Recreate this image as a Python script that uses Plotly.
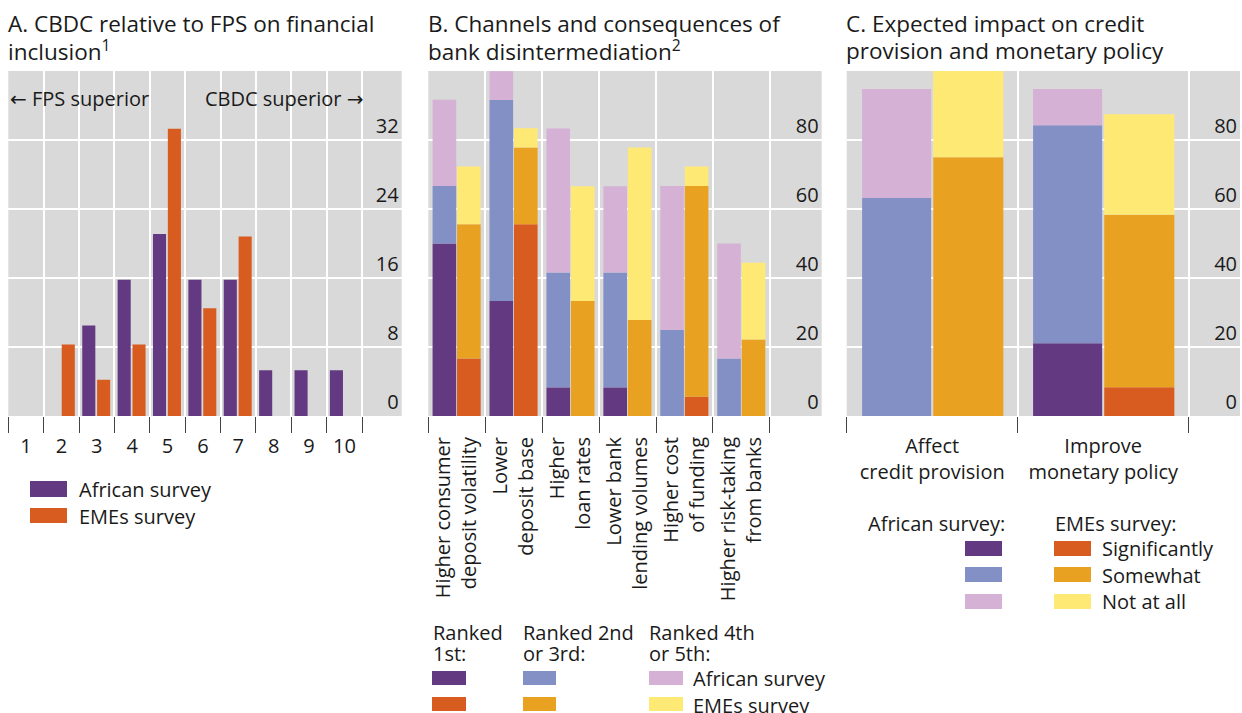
import plotly.graph_objects as go

W, H = 1242, 713
FONT = "Open Sans"
TXT = "#1a1a1a"

# ---------------- Data ----------------
# Panel A: distribution of scores (per cent of respondents)
scores = ["1", "2", "3", "4", "5", "6", "7", "8", "9", "10"]
a_african = [0, 0, 10.5, 15.8, 21.1, 15.8, 15.8, 5.3, 5.3, 5.3]
a_emes = [0, 8.3, 4.2, 8.3, 33.3, 12.5, 20.8, 0, 0, 0]
a_yticks = [0, 8, 16, 24, 32]

# Panel B: channels of bank disintermediation (per cent)
channels = ["Higher consumer deposit volatility", "Lower deposit base", "Higher loan rates",
            "Lower bank lending volumes", "Higher cost of funding", "Higher risk-taking from banks"]
channel_labels = ["Higher consumer<br>deposit volatility", "Lower<br>deposit base", "Higher<br>loan rates",
                  "Lower bank<br>lending volumes", "Higher cost<br>of funding", "Higher risk-taking<br>from banks"]
b_afr_1st = [50.0, 33.3, 8.3, 8.3, 0, 0]
b_afr_2nd3rd = [16.7, 58.3, 33.3, 33.3, 25.0, 16.7]
b_afr_4th5th = [25.0, 8.3, 41.7, 25.0, 41.7, 33.3]
b_eme_1st = [16.7, 55.6, 0, 0, 5.6, 0]
b_eme_2nd3rd = [38.9, 22.2, 33.3, 27.8, 61.1, 22.2]
b_eme_4th5th = [16.7, 5.6, 33.3, 50.0, 5.6, 22.2]

# Panel C: expected impact (per cent)
impacts = ["Affect credit provision", "Improve monetary policy"]
impact_labels = ["Affect<br>credit provision", "Improve<br>monetary policy"]
c_afr_sig = [0, 21.1]
c_afr_some = [63.2, 63.2]
c_afr_not = [31.6, 10.5]
c_eme_sig = [0, 8.3]
c_eme_some = [75.0, 50.0]
c_eme_not = [25.0, 29.2]
bc_yticks = [0, 20, 40, 60, 80]

# ---------------- Style ----------------
PURPLE = "#633a82"
RED = "#d85b20"
BLUE = "#8290c6"
ORANGE = "#e9a122"
PINK = "#d5b1d5"
YELLOW = "#ffe975"
BG = "#d9d9d9"
FS = 20


def px(x):
    return x / W


def py(y):
    return 1 - y / H


fig = go.Figure()

# Panel A bars
fig.add_bar(x=scores, y=a_african, offset=-0.41, width=0.37, marker_color=PURPLE,
            marker_line_width=0, xaxis="x", yaxis="y", showlegend=False)
fig.add_bar(x=scores, y=a_emes, offset=0.01, width=0.37, marker_color=RED,
            marker_line_width=0, xaxis="x", yaxis="y", showlegend=False)


def add_stack(x, layers, colors, offset, width, xa, ya):
    base = [0.0] * len(x)
    for vals, col in zip(layers, colors):
        fig.add_bar(x=x, y=vals, base=list(base), offset=offset, width=width,
                    marker_color=col, marker_line_width=0, xaxis=xa, yaxis=ya,
                    showlegend=False)
        base = [b + v for b, v in zip(base, vals)]


add_stack(channels, [b_afr_1st, b_afr_2nd3rd, b_afr_4th5th], [PURPLE, BLUE, PINK],
          -0.425, 0.415, "x2", "y2")
add_stack(channels, [b_eme_1st, b_eme_2nd3rd, b_eme_4th5th], [RED, ORANGE, YELLOW],
          0.005, 0.415, "x2", "y2")
add_stack(impacts, [c_afr_sig, c_afr_some, c_afr_not], [PURPLE, BLUE, PINK],
          -0.41, 0.404, "x3", "y3")
add_stack(impacts, [c_eme_sig, c_eme_some, c_eme_not], [RED, ORANGE, YELLOW],
          0.006, 0.41, "x3", "y3")

ydom = [1 - 416 / H, 1 - 71 / H]
doms = [[px(8.3), px(401.7)], [px(428.3), px(821.7)], [px(846.7), px(1240)]]

xcommon = dict(type="category", tickson="boundaries", ticks="outside", ticklen=16,
               tickwidth=1.3, tickcolor="#444444", showgrid=True, gridcolor="white",
               gridwidth=1.5, zeroline=False, showline=False, fixedrange=True,
               tickfont=dict(family=FONT, size=FS, color=TXT))
ycommon = dict(side="right", ticklabelposition="inside top", showgrid=True,
               gridcolor="white", gridwidth=1.5, zeroline=False, showline=False,
               ticks="", fixedrange=True, tickfont=dict(family=FONT, size=FS, color=TXT))

layout = dict(
    width=W, height=H, margin=dict(l=0, r=0, t=0, b=0),
    paper_bgcolor="white", plot_bgcolor=BG, barmode="overlay",
    font=dict(family=FONT, color=TXT),
    xaxis=dict(domain=doms[0], anchor="y", range=[-0.5, 10.62],
               categoryorder="array", categoryarray=scores, ticklabelstandoff=16,
               tickvals=scores, ticktext=scores, tickangle=0, **xcommon),
    yaxis=dict(domain=ydom, anchor="x", range=[0, 40], tickvals=a_yticks, **ycommon),
    xaxis2=dict(domain=doms[1], anchor="y2", range=[-0.5, 6.41],
                categoryorder="array", categoryarray=channels, ticklabelstandoff=16,
                tickvals=channels, ticktext=channel_labels, tickangle=-90, **xcommon),
    yaxis2=dict(domain=ydom, anchor="x2", range=[0, 100], tickvals=bc_yticks, **ycommon),
    xaxis3=dict(domain=doms[2], anchor="y3", range=[-0.5, 1.80],
                categoryorder="array", categoryarray=impacts, ticklabelstandoff=16,
                tickvals=impacts, ticktext=impact_labels, tickangle=0, **xcommon),
    yaxis3=dict(domain=ydom, anchor="x3", range=[0, 100], tickvals=bc_yticks, **ycommon),
)
fig.update_layout(**layout)

annotations = []
shapes = []


def text(x, y, s, size=FS, xanchor="left", yanchor="middle", align="left"):
    annotations.append(dict(x=px(x), y=py(y), xref="paper", yref="paper", text=s,
                            showarrow=False, xanchor=xanchor, yanchor=yanchor, align=align,
                            font=dict(family=FONT, size=size, color=TXT)))


def swatch(x0, y0, x1, y1, col):
    shapes.append(dict(type="rect", xref="paper", yref="paper", x0=px(x0), x1=px(x1),
                       y0=py(y1), y1=py(y0), fillcolor=col, line=dict(width=0)))


# Titles (one annotation per line)
TS = 22.5
text(6, 23.5, "A. CBDC relative to FPS on financial", size=TS)
text(6, 51, "inclusion<sup>1</sup>", size=TS)
text(426, 23.5, "B. Channels and consequences of", size=TS)
text(426, 51, "bank disintermediation<sup>2</sup>", size=TS)
text(844, 23.5, "C. Expected impact on credit", size=TS)
text(844, 51, "provision and monetary policy", size=TS)

# Panel A direction labels
ARW = "<span style='font-family:DejaVu Sans'>%s</span>"
text(8, 98, (ARW % "←") + " FPS superior")
text(365, 98, "CBDC superior " + (ARW % "→"), xanchor="right")

# Panel A legend
swatch(30, 481, 67, 497, PURPLE)
swatch(30, 508, 67, 523, RED)
text(77, 489, "African survey")
text(77, 516, "EMEs survey")

# Panel B legend
text(431, 632, "Ranked")
text(431, 653, "1st:")
text(521, 632, "Ranked 2nd")
text(521, 653, "or 3rd:")
text(647, 632, "Ranked 4th")
text(647, 653, "or 5th:")
swatch(432, 671, 466, 685, PURPLE)
swatch(432, 697, 466, 711, RED)
swatch(523, 671, 556, 685, BLUE)
swatch(523, 697, 556, 711, ORANGE)
swatch(649, 671, 683, 685, PINK)
swatch(649, 697, 683, 711, YELLOW)
text(691, 678, "African survey")
text(691, 705, "EMEs survey")

# Panel C legend
text(1007, 523, "African survey:", xanchor="right")
text(1053, 523, "EMEs survey:")
swatch(965, 541, 1002, 556, PURPLE)
swatch(965, 567, 1002, 582, BLUE)
swatch(965, 594, 1002, 609, PINK)
swatch(1054, 541, 1091, 556, RED)
swatch(1054, 567, 1091, 582, ORANGE)
swatch(1054, 594, 1091, 609, YELLOW)
text(1100, 548, "Significantly")
text(1100, 575, "Somewhat")
text(1100, 601, "Not at all")

fig.update_layout(annotations=annotations, shapes=shapes)

fig.write_html("out.html")
